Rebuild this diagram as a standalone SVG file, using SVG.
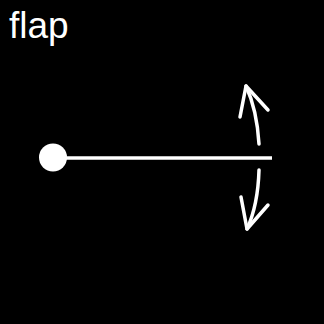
<svg xmlns="http://www.w3.org/2000/svg" width="324" height="324" viewBox="0 0 324 324">
<style>
.s{fill:none;stroke:#fff;stroke-width:3.5;stroke-linecap:round;stroke-linejoin:round}
</style>
<rect width="324" height="324" fill="#000"/>
<text x="9" y="38" font-family="Liberation Sans, Arial, sans-serif" font-size="37" fill="#fff">flap</text>
<g id="connectors">
<line x1="53" y1="158" x2="272" y2="158" stroke="#fff" stroke-width="3.5"/>
<path class="s" d="M259 144 Q257 110 246 86"/>
<path class="s" d="M240 117 L246 86 L268 110"/>
<path class="s" d="M259 170 Q258 205 247 229"/>
<path class="s" d="M241 197 L247 229 L268 205"/>
</g>
<g id="pivot"><circle cx="53" cy="157.5" r="14" fill="#fff"/></g>
</svg>
